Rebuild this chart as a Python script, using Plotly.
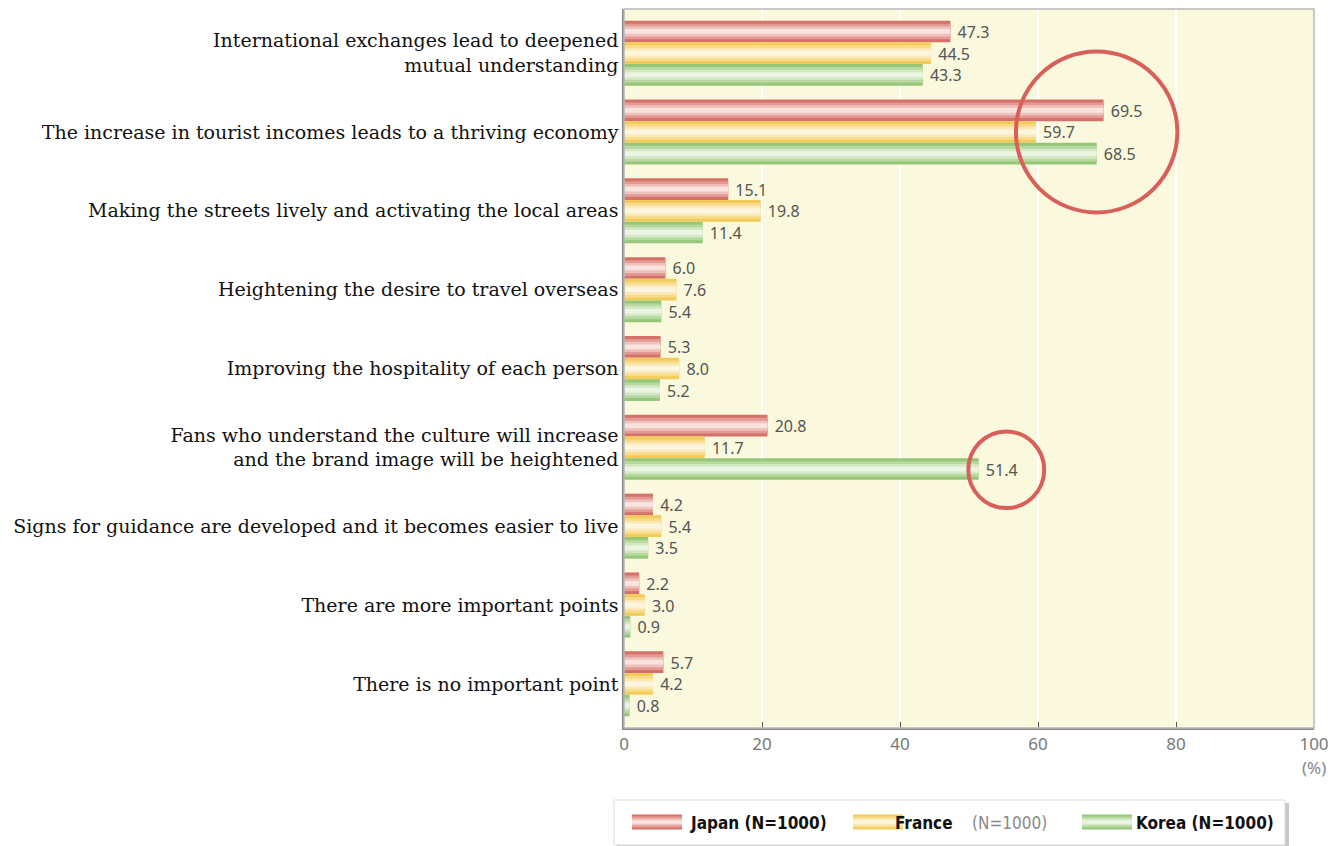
import plotly.graph_objects as go

categories = [
    "International exchanges lead to deepened<br>mutual understanding",
    "The increase in tourist incomes leads to a thriving economy",
    "Making the streets lively and activating the local areas",
    "Heightening the desire to travel overseas",
    "Improving the hospitality of each person",
    "Fans who understand the culture will increase<br>and the brand image will be heightened",
    "Signs for guidance are developed and it becomes easier to live",
    "There are more important points",
    "There is no important point",
]
japan = [47.3, 69.5, 15.1, 6.0, 5.3, 20.8, 4.2, 2.2, 5.7]
france = [44.5, 59.7, 19.8, 7.6, 8.0, 11.7, 5.4, 3.0, 4.2]
korea = [43.3, 68.5, 11.4, 5.4, 5.2, 51.4, 3.5, 0.9, 0.8]
series_names = ["Japan", "France", "Korea"]
series_n = ["(N=1000)", "(N=1000)", "(N=1000)"]
x_ticks = [0, 20, 40, 60, 80, 100]

# colour steps from bar edge to bar centre (fake gradient)
shades = {
    "Japan": ["#d6716a", "#e39a93", "#efc2bd", "#f9e3df"],
    "France": ["#f3cb58", "#f7dc8c", "#fbe9bb", "#fdf6df"],
    "Korea": ["#96c678", "#b7d9a0", "#d3e8c4", "#ecf5e3"],
}
fracs = [1.0, 0.72, 0.46, 0.22]

BAR_W = 0.275
offsets = [-0.4125, -0.1375, 0.1375]
idx = list(range(len(categories)))

fig = go.Figure()
for name, vals, off in zip(series_names, [japan, france, korea], offsets):
    for k, (frac, col) in enumerate(zip(fracs, shades[name])):
        w = BAR_W * frac
        fig.add_trace(go.Bar(
            y=idx, x=vals, orientation="h",
            width=w, offset=off + (BAR_W - w) / 2,
            marker=dict(color=col, line=dict(width=0)),
            text=[f" {v:.1f}" for v in vals] if k == 0 else None,
            textposition="outside" if k == 0 else "none",
            textfont=dict(family="Noto Sans, Arial", size=18.5, color="#555555"),
            cliponaxis=False,
            showlegend=False, hoverinfo="skip", name=name,
        ))

# highlight circles
fig.add_shape(type="circle", xref="x", yref="y", x0=56.8, x1=80.2, y0=-0.02, y1=2.02,
              line=dict(color="#d9605a", width=4))
fig.add_shape(type="circle", xref="x", yref="y", x0=49.9, x1=60.9, y0=4.8, y1=5.77,
              line=dict(color="#d9605a", width=4))

# plot frame (top/right softer)
fig.add_shape(type="rect", xref="paper", yref="paper", x0=0, x1=1, y0=0, y1=1,
              line=dict(color="#b8b8b8", width=1.5), layer="above")

# "(%)" unit
fig.add_annotation(xref="paper", yref="paper", x=1.0, y=-0.055, text="(%)",
                   showarrow=False, xanchor="center", yanchor="middle",
                   font=dict(family="Noto Sans, Arial", size=17, color="#888888"))

# manual legend (pixel layout of the screenshot converted to paper coords)
def px_x(p):
    return (p - 624) / 690


def px_y(p):
    return (728 - p) / 719


fig.add_shape(type="rect", xref="paper", yref="paper", x0=px_x(617), x1=px_x(1289),
              y0=px_y(848), y1=px_y(803), line=dict(width=0), fillcolor="#c8c8c8")
fig.add_shape(type="rect", xref="paper", yref="paper", x0=px_x(614), x1=px_x(1285),
              y0=px_y(845), y1=px_y(800), line=dict(color="#dddddd", width=1), fillcolor="white")

swatch_x = [632, 853, 1082]
label_x = [688, 893, 1134]
for name, nn, sx, lx in zip(series_names, series_n, swatch_x, label_x):
    for frac, col in zip(fracs, shades[name]):
        h = 15 * frac
        fig.add_shape(type="rect", xref="paper", yref="paper",
                      x0=px_x(sx), x1=px_x(sx + 50),
                      y0=px_y(822 + h / 2), y1=px_y(822 - h / 2),
                      line=dict(width=0), fillcolor=col)
    if name == "France":
        txt = f"<b>{name}</b>    <span style='color:#888888'>{nn}</span>"
    else:
        txt = f"<b>{name} {nn}</b>"
    fig.add_annotation(xref="paper", yref="paper", x=px_x(lx), y=px_y(823), text=txt,
                       showarrow=False, xanchor="left", yanchor="middle",
                       font=dict(family="DejaVu Sans Condensed, Liberation Sans Narrow, Arial",
                                 size=17, color="#111111"))

# page body adds an 8px margin, so the figure is 8px smaller and margins shifted
fig.update_layout(
    width=1335, height=838,
    margin=dict(l=616, r=29, t=1, b=118),
    paper_bgcolor="white",
    plot_bgcolor="#faf8dd",
    barmode="overlay",
    showlegend=False,
    xaxis=dict(
        range=[0, 100], tickvals=x_ticks, ticktext=[str(t) for t in x_ticks],
        showgrid=True, gridcolor="white", gridwidth=2,
        zeroline=False, showline=True, linecolor="#888888", linewidth=1.5,
        ticks="inside", ticklen=6, tickcolor="#555555",
        tickfont=dict(family="Noto Sans, Arial", size=17, color="#777777"),
    ),
    yaxis=dict(
        range=[8.56, -0.56], tickvals=idx, ticktext=categories,
        showgrid=False, zeroline=False, showline=True, linecolor="#888888", linewidth=1.5,
        ticks="", ticklabelstandoff=0,
        tickfont=dict(family="DejaVu Serif, Liberation Serif, serif", size=19, color="#111111"),
    ),
)

fig.write_html("out.html")
